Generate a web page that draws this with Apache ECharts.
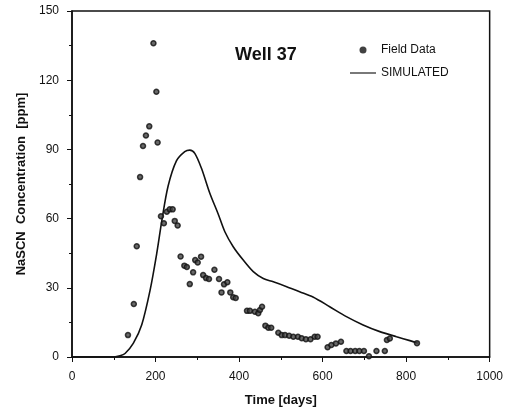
<!DOCTYPE html>
<html>
<head>
<meta charset="utf-8">
<script src="https://cdn.jsdelivr.net/npm/echarts@6/dist/echarts.min.js"></script>
<style>html,body{margin:0;padding:0;background:#fff;}#c{width:506px;height:417px;}</style>
</head>
<body>
<div id="c"></div>
<script>
var xTicks = [0, 200, 400, 600, 800, 1000];
var yTicks = [0, 30, 60, 90, 120, 150];

var fieldDays = [134, 148, 155, 163, 170, 177, 185, 195, 202, 205,
  213, 220, 227, 234, 241, 246, 253, 260, 269, 275, 282, 290, 295, 301, 309,
  314, 321, 328, 341, 352, 358, 364, 372, 379, 386, 392,
  419, 426, 438, 446, 450, 455, 463, 470, 477, 494, 502, 510, 520, 530, 541,
  550, 560, 571, 581, 588, 612, 621, 632, 644, 657, 667, 678, 688, 699, 711,
  729, 749, 754, 761, 826];
var fieldPpm = [9.5, 23, 48, 78, 91.5, 96, 100, 136, 115, 93,
  61, 58, 63, 64, 64, 59, 57, 43.6, 39.6, 39, 31.6, 36.7, 42, 41, 43.5,
  35.5, 34.2, 33.8, 37.8, 33.8, 28, 31.5, 32.4, 28, 25.9, 25.6,
  20, 20, 19.6, 19, 20.4, 21.8, 13.6, 12.7, 12.7, 10.5, 9.5, 9.5, 9.2, 8.8, 8.8,
  8.1, 7.7, 7.7, 8.8, 8.8, 4.2, 5.2, 5.9, 6.6, 2.6, 2.6, 2.6, 2.6, 2.6, 0.3,
  2.6, 2.6, 7.4, 8, 6];

var simDays = [0, 100, 115, 127, 147, 167, 187, 203, 215, 230, 250, 270, 282, 294,
  310, 330, 350, 366, 386, 410, 434, 458, 482, 514, 545, 577, 617, 657, 697, 737,
  777, 809, 828];
var simPpm = [0, 0, 0.5, 1.5, 6, 14, 29, 45, 59, 74, 85, 89, 89.7, 88.3,
  81.8, 71, 62, 54.3, 47.8, 42, 37, 34, 32.6, 30.5, 28.3, 26, 21.8, 17.5, 13.9, 11,
  8.8, 7.1, 6];

var fieldData = fieldDays.map(function (d, i) { return [d, fieldPpm[i]]; });
var simData = simDays.map(function (d, i) { return [d, simPpm[i]]; });

var chart = echarts.init(document.getElementById('c'));
var font = 'Liberation Sans, Arial, sans-serif';
chart.setOption({
  animation: false,
  backgroundColor: '#fff',
  grid: { left: 72, right: 16, top: 11, bottom: 60, show: true, borderColor: '#111', borderWidth: 1.5, backgroundColor: 'transparent' },
  title: {
    text: 'Well 37', left: 230, top: 41,
    textStyle: { fontFamily: font, fontSize: 18, fontWeight: 'bold', color: '#111' }
  },
  legend: {
    orient: 'vertical', left: 345, top: 39, itemWidth: 26, itemHeight: 7, itemGap: 11,
    textStyle: { fontFamily: font, fontSize: 12, color: '#111' },
    data: [
      { name: 'Field Data', icon: 'circle', itemStyle: { color: '#111', borderWidth: 0 } },
      { name: 'SIMULATED', icon: 'path://M0,0 L30,0 L30,1.3 L0,1.3 Z', itemStyle: { color: '#111' } }
    ]
  },
  xAxis: {
    type: 'value', min: 0, max: 1000, interval: 200,
    name: 'Time [days]', nameLocation: 'middle', nameGap: 37,
    nameTextStyle: { fontFamily: font, fontSize: 13, fontWeight: 'bold', color: '#111' },
    axisLine: { lineStyle: { color: '#111', width: 1.5 } },
    axisTick: { show: true, length: 5, lineStyle: { color: '#111' } },
    minorTick: { show: true, splitNumber: 2, length: 3, lineStyle: { color: '#111' } },
    axisLabel: { fontFamily: font, fontSize: 12, color: '#111', margin: 14,
      formatter: function (v) { return xTicks.indexOf(v) >= 0 ? String(v) : ''; } },
    splitLine: { show: false }
  },
  yAxis: {
    type: 'value', min: 0, max: 150, interval: 30,
    name: 'NaSCN  Concentration  [ppm]', nameLocation: 'middle', nameGap: 44,
    nameTextStyle: { fontFamily: font, fontSize: 13, fontWeight: 'bold', color: '#111' },
    axisLine: { show: true, lineStyle: { color: '#111', width: 1.5 } },
    axisTick: { show: true, length: 5, lineStyle: { color: '#111' } },
    minorTick: { show: true, splitNumber: 2, length: 3, lineStyle: { color: '#111' } },
    axisLabel: { fontFamily: font, fontSize: 12, color: '#111', margin: 13,
      formatter: function (v) { return yTicks.indexOf(v) >= 0 ? String(v) : ''; } },
    splitLine: { show: false }
  },
  series: [
    {
      name: 'Field Data', type: 'scatter', data: fieldData, symbol: 'circle', symbolSize: 5,
      itemStyle: { color: '#444', borderColor: '#111', borderWidth: 1.5 }, z: 3
    },
    {
      name: 'SIMULATED', type: 'line', data: simData, symbol: 'none', smooth: 0.3,
      lineStyle: { color: '#111', width: 1.6 }, itemStyle: { color: '#111' }, z: 2
    }
  ]
});
</script>
</body>
</html>
